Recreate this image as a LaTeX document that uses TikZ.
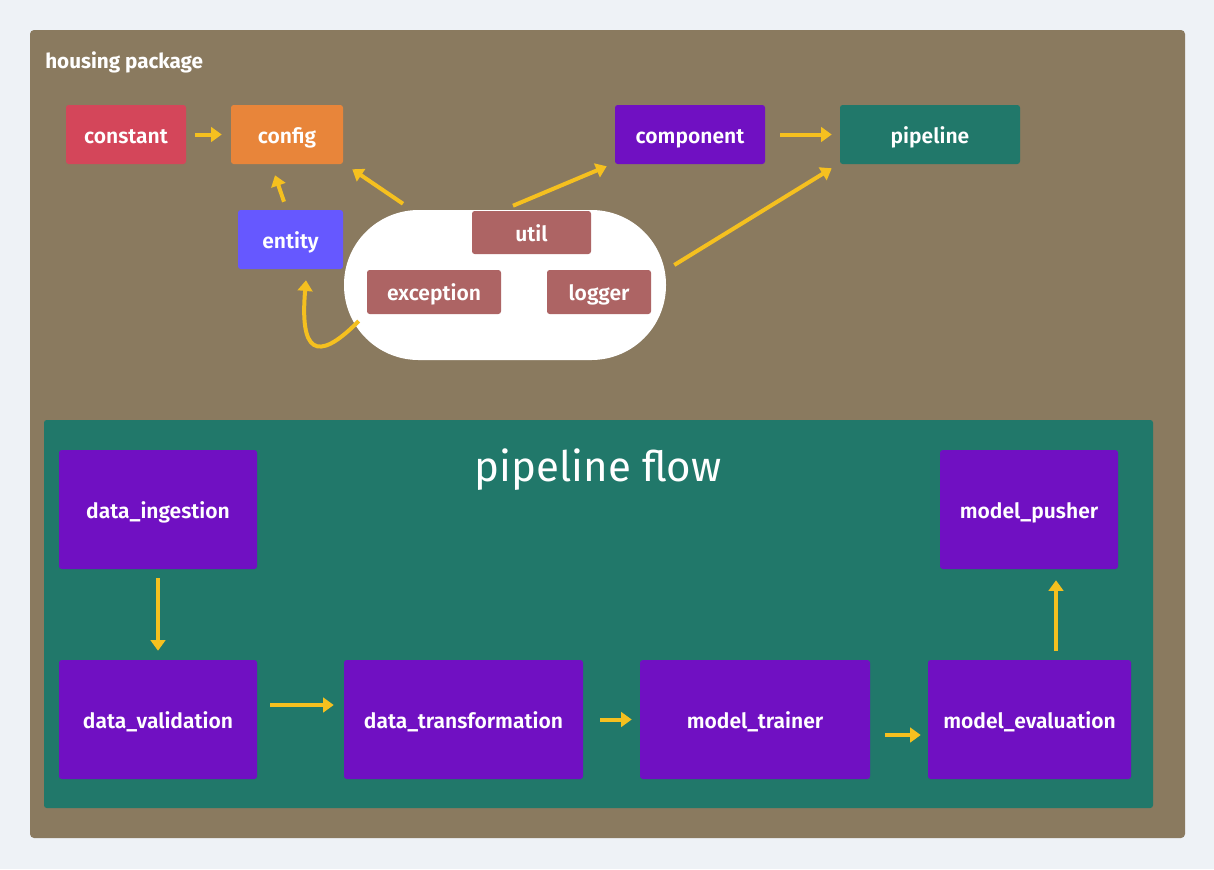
\documentclass[tikz,border=0pt]{standalone}
\usepackage{fontspec}
\setmainfont{Fira Sans}[BoldFont={Fira Sans SemiBold}]
\newfontfamily\titlefont{Fira Sans Bold}
\usetikzlibrary{arrows.meta,calc}
\definecolor{bgc}{RGB}{238,242,246}
\definecolor{brownc}{RGB}{138,122,95}
\definecolor{constc}{RGB}{212,70,90}
\definecolor{confc}{RGB}{232,133,58}
\definecolor{purpc}{RGB}{112,16,194}
\definecolor{tealc}{RGB}{33,120,106}
\definecolor{entc}{RGB}{102,88,255}
\definecolor{utilc}{RGB}{173,100,100}
\definecolor{arrc}{RGB}{245,192,31}
\tikzset{
  box/.style={rounded corners=2pt, text=white, inner sep=0pt, text height=12.75pt, text depth=0pt, font=\bfseries\fontsize{15.8}{19}\selectfont},
  smallbox/.style={box, minimum height=44.25pt},
  bigbox/.style={box, fill=purpc, minimum height=89.25pt},
  arr/.style={draw=arrc, line width=3pt, -{Triangle[length=8pt,width=11pt]}},
}
\begin{document}
\begin{tikzpicture}[x=0.75pt,y=-0.75pt]
\useasboundingbox (0,0) rectangle (1214,869);
\fill[bgc] (0,0) rectangle (1214,869);
\fill[brownc, rounded corners=3pt] (30,30) rectangle (1185,838);
\node[anchor=base west, text=white, font=\titlefont\fontsize{15.5}{18}\selectfont, inner sep=0pt] (title) at (45,68) {housing package};

\node[smallbox, fill=constc, minimum width=90pt] (constant) at (126,134.5) {constant};
\node[smallbox, fill=confc, minimum width=84pt] (config) at (287,134.5) {config};
\node[smallbox, fill=purpc, minimum width=112.5pt] (component) at (690,134.5) {component};
\node[smallbox, fill=tealc, minimum width=135pt] (pipeline) at (930,134.5) {pipeline};
\node[smallbox, fill=entc, minimum width=78.75pt] (entity) at (290.5,239.5) {entity};
\node[fill=white, rounded corners=56pt, minimum width=241.5pt, minimum height=112.5pt, inner sep=0pt] (ell) at (505,285) {};
\node[box, fill=utilc, minimum width=89.25pt, minimum height=32.25pt] (util) at (531.5,232.5) {util};
\node[box, fill=utilc, minimum width=100.5pt, minimum height=33pt] (exception) at (434,292) {exception};
\node[box, fill=utilc, minimum width=78pt, minimum height=33pt] (logger) at (599,292) {logger};

\draw[arr, shorten <=6.75pt, shorten >=6.75pt] (constant.east) -- (config.west);
\draw[arr, shorten <=11.25pt, shorten >=6pt] (component.east) -- (pipeline.west);
\draw[arr] ($(entity.north)+(-6.5,-8)$) -- ($(config.south)+(-12,11)$);
\draw[arr] ($(ell.north)+(-102,-6)$) -- ($(config.south east)+(9,5)$);
\draw[arr] ($(ell.north)+(8,-4)$) -- ($(component.south west)+(-8,2)$);
\draw[arr] ($(ell.east)+(8,-20)$) -- ($(pipeline.south west)+(-8,4)$);
\draw[arr] ($(ell.west)+(15,36)$) .. controls ($(entity.south)+(24.5,96)$) and ($(entity.south)+(9.5,81)$) .. ($(entity.south)+(15.5,11)$);

\fill[tealc, rounded corners=2pt] (44,420) rectangle (1153,808);
\node[text=white, font=\fontsize{31.5}{38}\selectfont, inner sep=0pt] (flow) at (598,470) {pipeline flow};

\node[bigbox, minimum width=148.5pt] (ing) at (158,509.5) {data\_ingestion};
\node[bigbox, minimum width=148.5pt] (val) at (158,719.5) {data\_validation};
\node[bigbox, minimum width=179.25pt] (trans) at (463.5,719.5) {data\_transformation};
\node[bigbox, minimum width=172.5pt] (trainer) at (755,719.5) {model\_trainer};
\node[bigbox, minimum width=152.25pt] (eval) at (1029.5,719.5) {model\_evaluation};
\node[bigbox, minimum width=133.5pt] (pusher) at (1029,509.5) {model\_pusher};

\draw[arr, shorten <=6.75pt, shorten >=6.75pt] (ing.south) -- (val.north);
\draw[arr] ($(val.east)+(13,-14.5)$) -- ($(trans.west)+(-10,-14.5)$);
\draw[arr, shorten <=12.75pt, shorten >=6pt] (trans.east) -- (trainer.west);
\draw[arr] ($(trainer.east)+(15,15.5)$) -- ($(eval.west)+(-7,15.5)$);
\draw[arr] ($(eval.north)+(26.5,-9)$) -- ($(pusher.south)+(27,11)$);
\end{tikzpicture}
\end{document}
